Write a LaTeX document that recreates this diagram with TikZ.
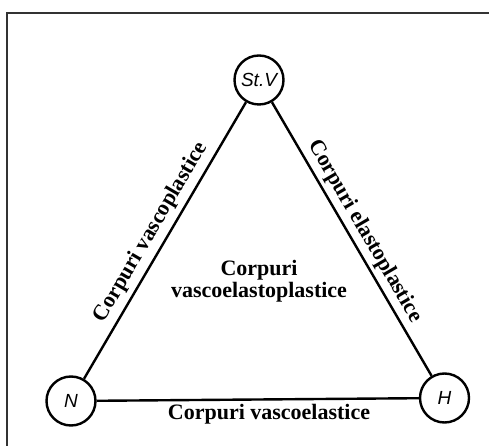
\documentclass[tikz,border=0pt]{standalone}
\usepackage{fontspec}
\setmainfont{Liberation Serif}
\newfontfamily\circfont{Liberation Sans}
\begin{document}
\begin{tikzpicture}[x=1pt,y=1pt,
  vertex/.style={circle, draw, line width=2.4pt, minimum size=49pt, inner sep=0pt,
    font=\circfont\itshape\fontsize{19}{19}\selectfont},
  edge/.style={line width=2.4pt},
  lbl/.style={font=\bfseries\fontsize{22}{22}\selectfont, inner sep=0pt},
  frame/.style={line width=1.2pt, draw=black!80}]
\useasboundingbox (0,0) rectangle (489,446);
\draw[frame] (489,433) -- (7,433) -- (7,0);
\node[vertex] (S) at (259,366) {St.V};
\node[vertex] (N) at (71,45) {N};
\node[vertex] (H) at (444.5,48) {H};
\draw[edge] (N) -- (S) node[midway, sloped, above=5pt, lbl] (lv) {Corpuri vascoplastice};
\draw[edge] (S) -- (H) node[midway, sloped, above=4pt, lbl] (le) {Corpuri elastoplastice};
\draw[edge] (N) -- (H);
\node[lbl, anchor=base] (lb) at (269,26) {Corpuri vascoelastice};
\node[lbl, align=center] (lc) at (259,165) {Corpuri\\vascoelastoplastice};
\end{tikzpicture}
\end{document}
